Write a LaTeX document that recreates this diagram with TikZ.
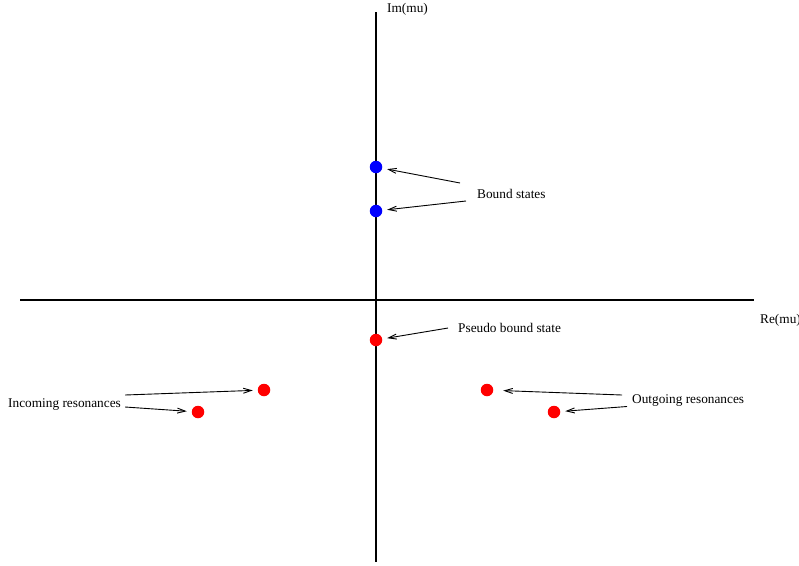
\documentclass[tikz,border=0pt]{standalone}
\usepackage{fontspec}
\setmainfont{Liberation Serif}
\usetikzlibrary{arrows.meta}

\begin{document}
\begin{tikzpicture}[x=1pt, y=-1pt,
        lbl/.style={anchor=west, inner sep=0pt, font=\fontsize{13.3}{16}\selectfont},
        dot/.style={circle, inner sep=0pt, minimum size=12.5pt, outer sep=5pt},
        bound/.style={dot, fill=blue},
        reso/.style={dot, fill=red},
        arrow/.style={-{Straight Barb[length=8pt,width=5pt]}, line width=0.9pt}
    ]
        \useasboundingbox (0,0) rectangle (799,565);
        % axes
        \draw[line width=2.4pt] (20,300) -- (754,300);
        \draw[line width=1.4pt] (376,12) -- (376,562);
        \node[lbl] (im) at (387,9.5) {Im(mu)};
        \node[lbl] (re) at (760,320.5) {Re(mu)};
        % poles
        \node[bound] (b1) at (376,167) {};
        \node[bound] (b2) at (376,211) {};
        \node[reso] (p) at (376,340) {};
        \node[reso] (in1) at (264,390) {};
        \node[reso] (in2) at (198,412) {};
        \node[reso] (out1) at (487,390) {};
        \node[reso] (out2) at (554,412) {};
        % labels
        \node[lbl] (boundlbl) at (477,194) {Bound states};
        \node[lbl] (pseudo) at (458,327.5) {Pseudo bound state};
        \node[lbl] (incoming) at (8,405) {Incoming resonances};
        \node[lbl] (outgoing) at (632,400.5) {Outgoing resonances};
        % pointers
        \draw[arrow] ([shift={(-17,-11)}]boundlbl.west) -- (b1);
        \draw[arrow] ([shift={(-11,7)}]boundlbl.west) -- (b2);
        \draw[arrow] ([shift={(-10,0.5)}]pseudo.west) -- (p);
        \draw[arrow] ([shift={(4,-10)}]incoming.east) -- (in1);
        \draw[arrow] ([shift={(4,2)}]incoming.east) -- (in2);
        \draw[arrow, shorten >=5pt] ([shift={(-10,-5.5)}]outgoing.west) -- (out1);
        \draw[arrow] ([shift={(-5,6)}]outgoing.west) -- (out2);
    \end{tikzpicture}
\end{document}
